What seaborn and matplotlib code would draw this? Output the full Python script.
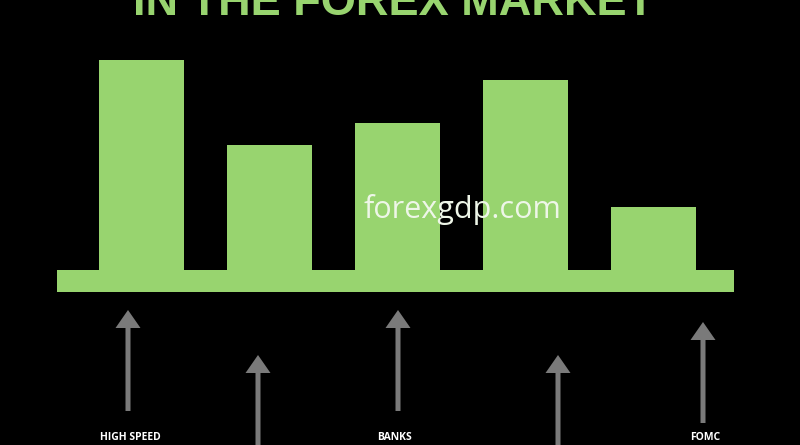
import matplotlib
matplotlib.use("Agg")
import matplotlib.pyplot as plt
import seaborn as sns
import pandas as pd
from matplotlib.patches import Rectangle, FancyArrow

# data (bar heights above the base, arbitrary units)
categories = ["A", "B", "C", "D", "E"]
values = [210, 125, 147, 190, 63]
bottom_labels = ["HIGH SPEED", "BANKS", "FOMC"]
title_text = "IN THE FOREX MARKET"
watermark = "forexgdp.com"

GREEN = "#98d46f"
GREY = "#7a7a7a"

sns.set_style("dark")
plt.rcParams["font.family"] = ["Open Sans", "DejaVu Sans"]

W, H = 800, 445
fig = plt.figure(figsize=(W / 100, H / 100), dpi=100, facecolor="black")

# bars axes: pixel box x 78..717, y 60..270 (top-down)
ax = fig.add_axes([78 / W, (H - 270) / H, (717 - 78) / W, 210 / H])
df = pd.DataFrame({"cat": categories, "val": values})
sns.barplot(data=df, x="cat", y="val", color=GREEN, saturation=1,
            width=0.665, linewidth=0, edgecolor=GREEN, ax=ax)
ax.set_xlim(-0.5, len(categories) - 0.5)
ax.set_ylim(0, max(values))
ax.set_facecolor("black")
ax.axis("off")

# overlay in pixel coordinates for the decorations
ov = fig.add_axes([0, 0, 1, 1], facecolor="none")
ov.set_xlim(0, W)
ov.set_ylim(H, 0)
ov.axis("off")

ov.add_patch(Rectangle((57, 270), 677, 22, color=GREEN, lw=0))

arrows = [(128, 411, 310), (258, 470, 355), (398, 411, 310),
          (558, 470, 355), (703, 423, 322)]
for x, y0, y1 in arrows:
    ov.add_patch(FancyArrow(x, y0, 0, y1 - y0, width=5, head_width=25,
                            head_length=18, length_includes_head=True,
                            color=GREY, lw=0))

for x, lab in zip([130, 395, 705], bottom_labels):
    ov.text(x, 443, lab, color="white", fontsize=7.5, fontweight="bold",
            ha="center", va="bottom")

# title runs off the top edge, as in the reference
ov.text(394, 15, title_text, color=GREEN, fontsize=32.5, fontweight="bold",
        family=["Liberation Sans", "DejaVu Sans"],
        ha="center", va="baseline")

ov.text(462, 218, watermark, color="#eef6e8", fontsize=22,
        ha="center", va="baseline")

fig.savefig("out.png", dpi=100, facecolor="black")
